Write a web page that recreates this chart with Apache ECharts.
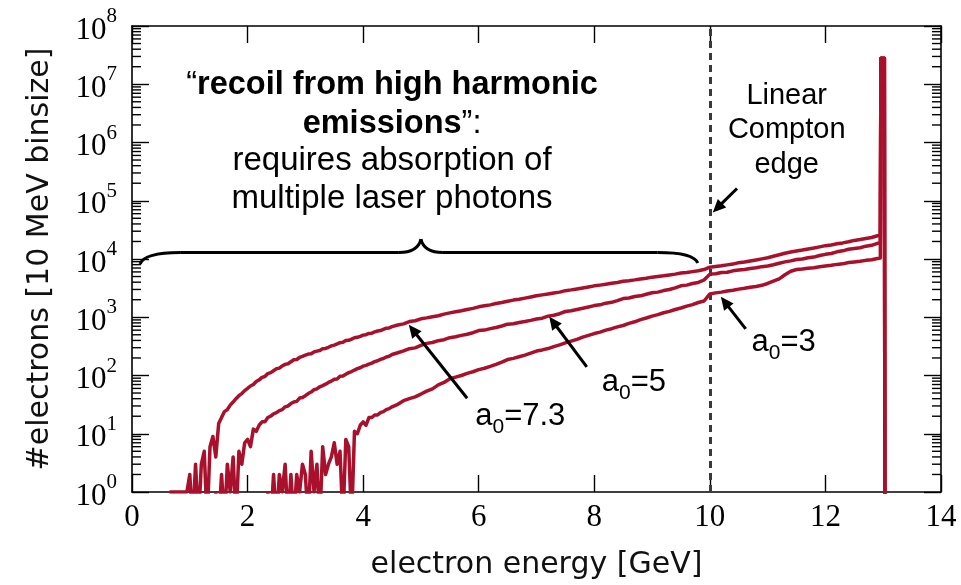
<!DOCTYPE html>
<html><head><meta charset="utf-8">
<script src="https://cdn.jsdelivr.net/npm/echarts@6/dist/echarts.min.js"></script>
<style>html,body{margin:0;padding:0;background:#fff}#c{width:961px;height:585px}</style>
</head><body><div id="c"></div>
<script>
// electron energy [GeV] (shared x values)
const energies = [
 0.60,0.65,0.70,0.75,0.80,0.85,0.90,0.95,
 1.00,1.05,1.10,1.15,1.20,1.25,1.30,1.35,1.40,1.45,1.50,1.55,1.60,1.65,1.70,1.75,1.80,1.85,1.90,1.95,
 2.00,2.05,2.10,2.15,2.20,2.25,2.30,2.35,2.40,2.45,2.50,2.55,2.60,2.65,2.70,2.75,2.80,2.85,2.90,2.95,
 3.00,3.05,3.10,3.15,3.20,3.25,3.30,3.35,3.40,3.45,3.50,3.55,3.60,3.65,3.70,3.75,3.80,3.85,3.90,3.95,
 4.00,4.05,4.10,4.15,4.20,4.25,4.30,4.35,4.40,4.45,4.50,
 4.6,4.7,4.8,4.9,
 5.0,5.1,5.2,5.3,5.4,5.5,5.6,5.7,5.8,5.9,
 6.0,6.1,6.2,6.3,6.4,6.5,6.6,6.7,6.8,6.9,
 7.0,7.1,7.2,7.3,7.4,7.5,7.6,7.7,7.8,7.9,
 8.0,8.1,8.2,8.3,8.4,8.5,8.6,8.7,8.8,8.9,
 9.0,9.1,9.2,9.3,9.4,9.5,9.6,9.7,9.8,9.9,
 10.0,10.1,10.2,10.3,10.4,10.5,10.6,10.7,10.8,10.9,
 11.0,11.1,11.2,11.3,11.4,11.5,11.6,11.7,11.8,11.9,
 12.0,12.1,12.2,12.3,12.4,12.5,12.6,12.7,12.8,12.9,
 12.95,12.96,13.02,13.03
];
// #electrons per 10 MeV bin; 0.3 stands for an empty bin (drawn below the axis)
const a0_73 = [
 null,1,1,1,1,1,1,1,
 2,0.3,3,0.3,3,5,0.3,6,9,4,15,19,24,26,31,35,40,45,49,55,
 60,66,70,79,84,93,96,108,112,121,131,134,146,155,159,172,186,188,204,213,
 224,233,236,254,262,268,289,291,305,322,332,348,366,371,398,402,421,445,452,470,
 493,502,528,533,560,581,592,620,648,655,690,
 735,770,845,872,
 940,975,1020,1060,1130,1190,1240,1290,1360,1420,
 1510,1570,1630,1720,1790,1880,1970,2040,2130,2230,
 2340,2420,2510,2610,2700,2860,2950,3060,3180,3310,
 3460,3560,3680,3820,3960,4150,4250,4380,4540,4690,
 4880,5010,5150,5330,5500,5730,5860,6070,6280,6600,
 7240,7420,7630,7930,8180,8650,8900,9270,9640,10050,
 10500,11150,11800,12550,13150,13750,14250,14850,15400,16150,
 16950,17450,18250,18900,19750,20850,21600,22500,23400,25100,
 25500,28000000,28000000,0.3
];
const a0_5 = [
 null,null,null,null,null,null,null,null,
 null,null,null,null,null,null,null,null,null,1,0.3,2,0.3,3,1,4,0.3,5,3,7,
 8,6,12,11,14,16,16,19,20,22,23,25,26,29,30,33,35,36,41,42,
 45,49,52,57,59,64,67,71,76,80,86,87,97,98,105,112,117,124,131,136,
 145,149,157,163,173,179,189,196,208,214,229,
 246,264,289,298,
 328,356,368,396,412,446,462,488,512,543,
 590,602,638,668,708,760,772,812,843,884,
 935,965,1045,1080,1150,1255,1295,1360,1425,1500,
 1585,1635,1745,1805,1925,2090,2135,2265,2330,2480,
 2630,2700,2870,2990,3190,3460,3560,3790,3960,4360,
 5500,5590,5860,5940,6260,6450,6610,6890,7060,7390,
 7590,7960,8440,8920,9290,9780,10000,10520,10790,11500,
 12020,12420,13280,13810,14680,15150,15580,16620,17180,18600,
 18900,28000000,28000000,0.3
];
const a0_3 = [
 null,null,null,null,null,null,null,null,
 null,null,null,null,null,null,null,null,null,null,null,null,null,null,null,null,null,null,null,null,
 null,null,null,null,null,null,null,1,0.3,2,0.3,2,1,3,0.3,2,0.3,2,1,3,
 2,0.3,5,1,3,0.3,6,2,3,4,7,3,5,0.3,8,6,0.3,11,10,14,
 16,14,19,19,21,21,23,24,26,27,29,
 32,37,40,43,
 48,54,59,69,76,88,94,100,109,116,
 126,133,143,155,170,188,197,210,224,243,
 263,275,290,313,335,362,389,418,455,488,
 525,556,600,636,684,722,785,836,910,970,
 1047,1110,1195,1260,1360,1440,1555,1650,1790,1900,
 2510,2620,2700,2820,2910,3040,3140,3280,3380,3530,
 3800,4170,4570,5370,6170,6600,6720,6930,7080,7380,
 7590,7800,8080,8260,8690,8910,9120,9480,9730,10230,
 10400,28000000,28000000,0.3
];
const xTickLabels = [0,2,4,6,8,10,12,14];
const yDecadeExponents = [0,1,2,3,4,5,6,7,8];
const minorMultipliers = [2,3,4,5,6,7,8,9];
const minorDecades = [1,10,100,1000,10000,100000,1000000,10000000];
const frameSides = [0,14]; // x positions of left and right frame
const comptonEdge = 10; // GeV

const RED = '#a8102c';
const chart = echarts.init(document.getElementById('c'), null, {renderer:'canvas'});
function pairs(vals){ const out=[]; vals.forEach((v,i)=>{ if(v!==null) out.push([energies[i], v]); }); return out; }

const SERIF = 'Liberation Serif';
const axisLineStyle = {show:true, onZero:false, lineStyle:{color:'#000', width:1.6}};
const tickStyle = {show:true, inside:true, length:17, lineStyle:{color:'#000', width:1.4}};
const lineSeries = (name, vals, extra) => Object.assign({
  name, type:'line', data: pairs(vals), showSymbol:false, symbol:'none',
  lineStyle:{color:RED, width:3.5, join:'round'}, itemStyle:{color:RED},
  clip:true, animation:false, z:3
}, extra||{});

chart.setOption({
  animation:false,
  grid:{left:132, right:20, top:26, bottom:91, containLabel:false},
  xAxis:[
    {type:'value', min:0, max:14, interval:2, position:'bottom',
      axisLine:axisLineStyle, splitLine:{show:false}, axisTick:tickStyle,
      axisLabel:{show:true, margin:10, color:'#000', fontFamily:SERIF, fontSize:31,
        formatter:v => xTickLabels.includes(v) ? String(v) : ''},
      name:'electron energy [GeV]', nameLocation:'middle', nameGap:58,
      nameTextStyle:{fontFamily:'DejaVu Sans', fontSize:30, color:'#111'}},
    {type:'value', min:0, max:14, interval:2, position:'top',
      axisLine:axisLineStyle, splitLine:{show:false}, axisTick:tickStyle, axisLabel:{show:false}}
  ],
  yAxis:[
    {type:'log', logBase:10, min:1, max:1e8, splitNumber:8, position:'left',
      axisLine:axisLineStyle, splitLine:{show:false}, axisTick:tickStyle,
      axisLabel:{show:true, margin:15, color:'#000',
        formatter:v => { const e = Math.round(Math.log10(v)); return yDecadeExponents.includes(e) ? '{b|10}{s|'+e+'}' : ''; },
        rich:{
          b:{fontFamily:SERIF, fontSize:31, lineHeight:40, verticalAlign:'bottom', color:'#000'},
          s:{fontFamily:SERIF, fontSize:21, lineHeight:21, verticalAlign:'top', color:'#000'}
        }},
      name:'#electrons [10 MeV binsize]', nameLocation:'middle', nameGap:77, nameRotate:90,
      nameTextStyle:{fontFamily:'DejaVu Sans', fontSize:30, color:'#111'}},
    {type:'log', logBase:10, min:1, max:1e8, splitNumber:8, position:'right',
      axisLine:axisLineStyle, splitLine:{show:false}, axisTick:tickStyle, axisLabel:{show:false}}
  ],
  series:[
    lineSeries('a0=3', a0_3, {markLine:{silent:true, symbol:['none','none'], label:{show:false},
      lineStyle:{type:[7,5], color:'#3a3a3a', width:3}, data:[{xAxis:comptonEdge}], z:2}}),
    lineSeries('a0=5', a0_5),
    lineSeries('a0=7.3', a0_73)
  ]
});

// ---- minor ticks & annotations (placed through the chart's scales) ----
const conv = (e, v) => chart.convertToPixel({xAxisIndex:0, yAxisIndex:0}, [e, v]);
const g = [];
frameSides.forEach(s => minorDecades.forEach(d => minorMultipliers.forEach(m => {
  const p = conv(s, m*d); const dir = s < 7 ? 1 : -1;
  g.push({type:'line', z:6, silent:true, shape:{x1:p[0], y1:p[1], x2:p[0]+dir*9, y2:p[1]}, style:{stroke:'#000', lineWidth:1.4}});
})));
const arrowsData = [
  {tail:[10.47,162000], head:[10.05,63100]},   // Linear Compton edge
  {tail:[5.80,40.7], head:[4.79,741]},          // a0=7.3
  {tail:[7.87,141], head:[7.22,1023]},          // a0=5
  {tail:[10.62,631], head:[10.19,2239]}         // a0=3
];
arrowsData.forEach(a => {
  const P = conv(a.tail[0], a.tail[1]), Q = conv(a.head[0], a.head[1]);
  const dx = Q[0]-P[0], dy = Q[1]-P[1], L = Math.hypot(dx,dy), ux = dx/L, uy = dy/L;
  const hl = 13, hw = 6;
  const bx = Q[0]-ux*hl, by = Q[1]-uy*hl;
  g.push({type:'line', shape:{x1:P[0], y1:P[1], x2:bx+ux*2, y2:by+uy*2}, style:{stroke:'#000', lineWidth:3}, z:10});
  g.push({type:'polygon', shape:{points:[[Q[0],Q[1]],[bx-uy*hw, by+ux*hw],[bx+uy*hw, by-ux*hw]]}, style:{fill:'#000'}, z:10});
});
// curly brace
const bl = conv(0.14, 8180), br = conv(9.79, 8510), bt = conv(5.0, 21900), fy = conv(5.0, 12900)[1];
const bs = {stroke:'#000', lineWidth:3, fill:null};
g.push({type:'bezierCurve', z:10, shape:{x1:bl[0], y1:bl[1], cpx1:bl[0]+4, cpy1:fy, x2:bl[0]+40, y2:fy}, style:bs});
g.push({type:'line', z:10, shape:{x1:bl[0]+40, y1:fy, x2:bt[0]-22, y2:fy}, style:bs});
g.push({type:'bezierCurve', z:10, shape:{x1:bt[0]-22, y1:fy, cpx1:bt[0]-3, cpy1:fy, x2:bt[0], y2:bt[1]}, style:bs});
g.push({type:'bezierCurve', z:10, shape:{x1:bt[0], y1:bt[1], cpx1:bt[0]+3, cpy1:fy, x2:bt[0]+22, y2:fy}, style:bs});
g.push({type:'line', z:10, shape:{x1:bt[0]+22, y1:fy, x2:br[0]-40, y2:fy}, style:bs});
g.push({type:'bezierCurve', z:10, shape:{x1:br[0]-40, y1:fy, cpx1:br[0]-4, cpy1:fy, x2:br[0], y2:br[1]}, style:bs});

const SANS = 'Liberation Sans';
function txt(e, v, text, opt){
  const p = conv(e, v);
  return {type:'text', x:p[0], y:p[1], z:11, style:Object.assign({text, fill:'#000', fontFamily:SANS, fontSize:33,
    align:'center', verticalAlign:'middle', textAlign:'center', textVerticalAlign:'middle'}, opt||{})};
}
const richQ = {r:{fontFamily:SANS, fontSize:32.5, fontWeight:'normal', fill:'#000'}, b:{fontFamily:SANS, fontSize:32.5, fontWeight:'bold', fill:'#000'}};
g.push(txt(4.5, 9.77e6, '{r|“}{b|recoil from high harmonic}', {rich:richQ}));
g.push(txt(4.5, 2.09e6, '{b|emissions}{r|”:}', {rich:richQ}));
g.push(txt(4.5, 4.79e5, 'requires absorption of'));
g.push(txt(4.5, 1.07e5, 'multiple laser photons'));
g.push(txt(11.33, 6.17e6, 'Linear', {fontSize:29}));
g.push(txt(11.33, 1.62e6, 'Compton', {fontSize:29}));
g.push(txt(11.33, 4.17e5, 'edge', {fontSize:29}));
const richA = {n:{fontFamily:SANS, fontSize:31, lineHeight:42, verticalAlign:'middle', fill:'#000'},
               s:{fontFamily:SANS, fontSize:21, lineHeight:21, verticalAlign:'bottom', fill:'#000'}};
g.push(txt(5.94, 20, '{n|a}{s|0}{n|=7.3}', {rich:richA, align:'left', textAlign:'left'}));
g.push(txt(8.13, 76, '{n|a}{s|0}{n|=5}', {rich:richA, align:'left', textAlign:'left'}));
g.push(txt(10.72, 363, '{n|a}{s|0}{n|=3}', {rich:richA, align:'left', textAlign:'left'}));
chart.setOption({graphic:g});
</script></body></html>
